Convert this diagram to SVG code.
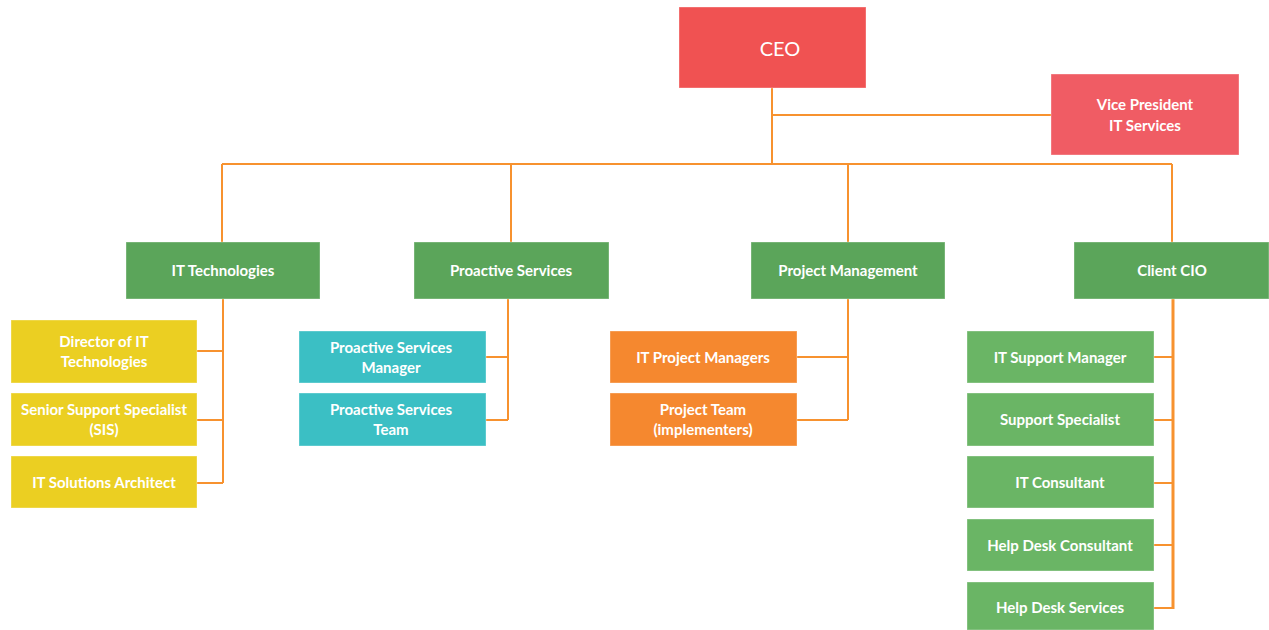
<svg xmlns="http://www.w3.org/2000/svg" width="1269" height="630" viewBox="0 0 1269 630">
<style>
.box{stroke:#ffffff;stroke-opacity:0.35;stroke-width:1}
.t{font-family:Lato,"Open Sans",sans-serif;font-size:15px;font-weight:bold;fill:#ffffff;text-anchor:middle;dominant-baseline:central}
.c{fill:none;stroke:#f7922f;stroke-width:2}
.red{fill:#f05252}.vp{fill:#f05c64}.dg{fill:#5ba55a}.y{fill:#ebcf22}.tl{fill:#3bbfc4}.or{fill:#f5882f}.lg{fill:#6ab565}
</style>
<rect width="1269" height="630" fill="#ffffff"/>
<g id="connectors">
<path class="c" d="M772 88V164M772 115H1051M222 164H1172M222 164V242M511 164V242M848 164V242M1172 164V242"/>
<path class="c" d="M223 299V483M197 351H223M197 420H223M197 483H223"/>
<path class="c" d="M508 299V420M486 357H508M486 420H508"/>
<path class="c" d="M848 299V420M797 357H848M797 420H848"/>
<path class="c" d="M1154 357H1173M1154 420H1173M1154 483H1173M1154 545H1173M1154 608H1174"/>
<path class="c" style="stroke-width:3" d="M1173 299V609"/>
</g>
<g id="ceo"><rect class="box red" x="679" y="7" width="187" height="81"/><text class="t" x="780" y="48" style="font-size:20px;font-weight:normal">CEO</text></g>
<g id="vp"><rect class="box vp" x="1051" y="74" width="188" height="81"/><text class="t" x="1145" y="104">Vice President</text><text class="t" x="1145" y="125">IT Services</text></g>
<g id="it-tech"><rect class="box dg" x="126" y="242" width="194" height="57"/><text class="t" x="223" y="270">IT Technologies</text></g>
<g id="proactive"><rect class="box dg" x="414" y="242" width="195" height="57"/><text class="t" x="511" y="270">Proactive Services</text></g>
<g id="project-mgmt"><rect class="box dg" x="751" y="242" width="194" height="57"/><text class="t" x="848" y="270">Project Management</text></g>
<g id="client-cio"><rect class="box dg" x="1074" y="242" width="195" height="57"/><text class="t" x="1172" y="270">Client CIO</text></g>
<g id="director-it"><rect class="box y" x="11" y="320" width="186" height="63"/><text class="t" x="104" y="341">Director of IT</text><text class="t" x="104" y="361">Technologies</text></g>
<g id="senior-support"><rect class="box y" x="11" y="393" width="186" height="53"/><text class="t" x="104" y="409">Senior Support Specialist</text><text class="t" x="104" y="429">(SIS)</text></g>
<g id="solutions-architect"><rect class="box y" x="11" y="456" width="186" height="52"/><text class="t" x="104" y="482">IT Solutions Architect</text></g>
<g id="ps-manager"><rect class="box tl" x="299" y="331" width="187" height="52"/><text class="t" x="391" y="347">Proactive Services</text><text class="t" x="391" y="367">Manager</text></g>
<g id="ps-team"><rect class="box tl" x="299" y="393" width="187" height="53"/><text class="t" x="391" y="409">Proactive Services</text><text class="t" x="391" y="429">Team</text></g>
<g id="it-pm"><rect class="box or" x="610" y="331" width="187" height="52"/><text class="t" x="703" y="357">IT Project Managers</text></g>
<g id="project-team"><rect class="box or" x="610" y="393" width="187" height="53"/><text class="t" x="703" y="409">Project Team</text><text class="t" x="703" y="429">(implementers)</text></g>
<g id="it-support-manager"><rect class="box lg" x="967" y="331" width="187" height="52"/><text class="t" x="1060" y="357">IT Support Manager</text></g>
<g id="support-specialist"><rect class="box lg" x="967" y="393" width="187" height="53"/><text class="t" x="1060" y="419">Support Specialist</text></g>
<g id="it-consultant"><rect class="box lg" x="967" y="456" width="187" height="52"/><text class="t" x="1060" y="482">IT Consultant</text></g>
<g id="help-desk-consultant"><rect class="box lg" x="967" y="519" width="187" height="52"/><text class="t" x="1060" y="545">Help Desk Consultant</text></g>
<g id="help-desk-services"><rect class="box lg" x="967" y="582" width="187" height="48"/><text class="t" x="1060" y="607">Help Desk Services</text></g>
</svg>
